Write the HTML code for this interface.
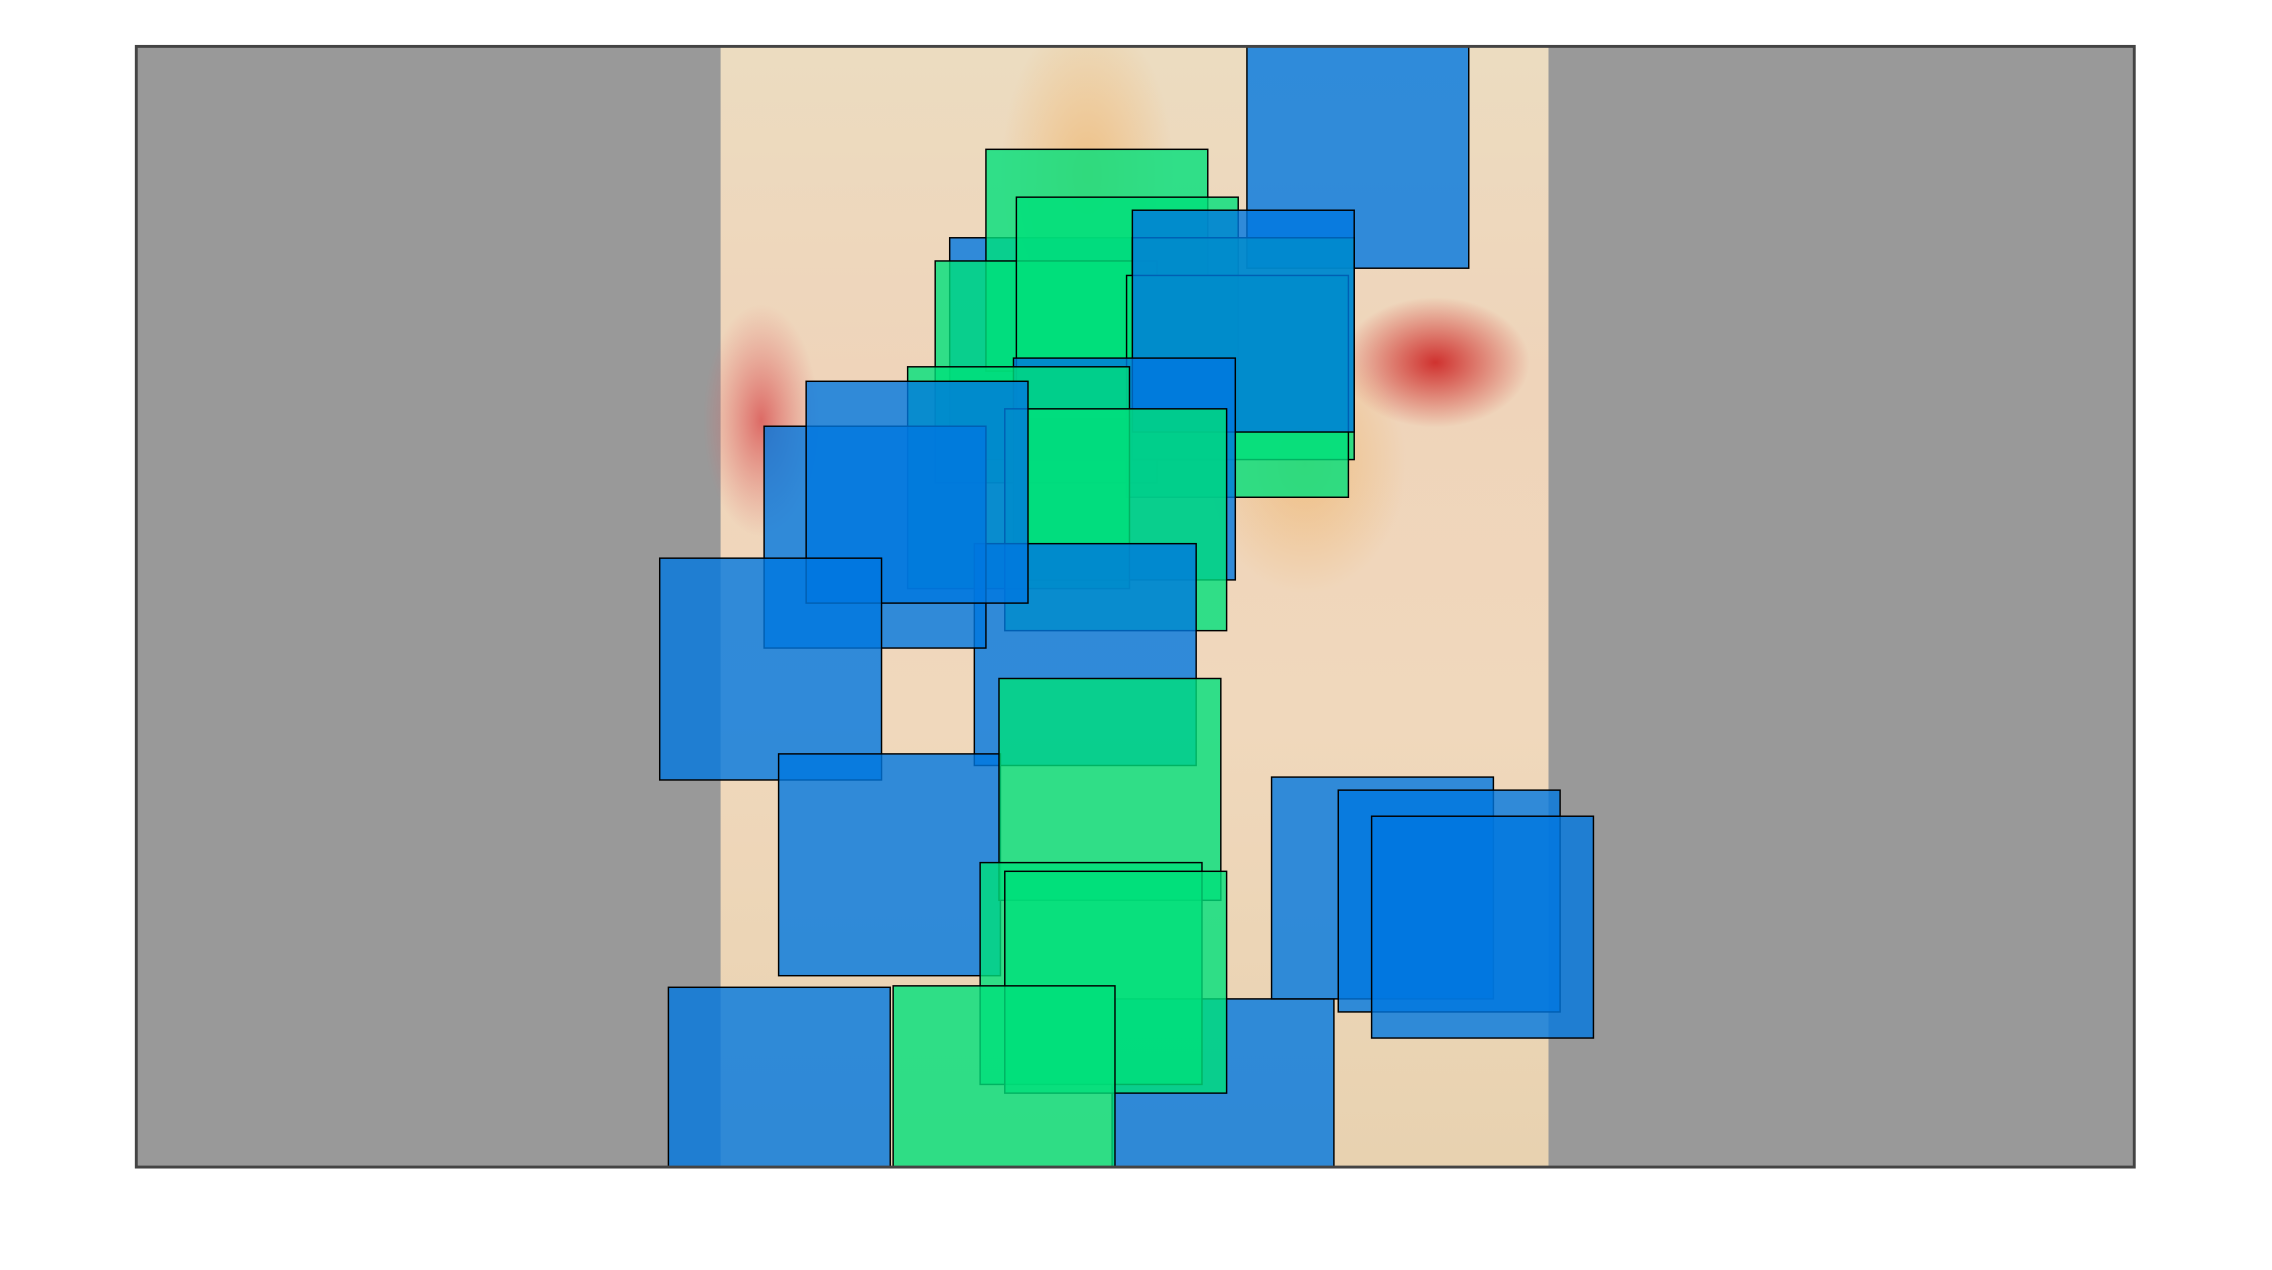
<!DOCTYPE html>
<html><head><meta charset="utf-8"><style>
html,body{margin:0;padding:0;background:#fff;}
svg{display:block;}
</style></head><body>
<svg id="chart" width="2272" height="1270" viewBox="0 0 1567 876" preserveAspectRatio="none" xmlns="http://www.w3.org/2000/svg">
<defs>
<linearGradient id="bgv" x1="0" y1="0" x2="0" y2="1">
<stop offset="0" stop-color="#ecdcc0"/><stop offset="0.3" stop-color="#efd4ba"/><stop offset="0.6" stop-color="#f0d8bc"/><stop offset="1" stop-color="#e8d2b0"/>
</linearGradient>
<radialGradient id="redL" cx="0.5" cy="0.5" r="0.5"><stop offset="0" stop-color="#d85050" stop-opacity="0.8"/><stop offset="1" stop-color="#e07070" stop-opacity="0"/></radialGradient>
<radialGradient id="redR" cx="0.5" cy="0.5" r="0.5"><stop offset="0" stop-color="#cc2020" stop-opacity="0.9"/><stop offset="1" stop-color="#cc2020" stop-opacity="0"/></radialGradient>
<radialGradient id="orng" cx="0.5" cy="0.5" r="0.5"><stop offset="0" stop-color="#f0b060" stop-opacity="0.6"/><stop offset="1" stop-color="#f0b060" stop-opacity="0"/></radialGradient>
<clipPath id="plotclip"><rect x="94" y="32" width="1378" height="773"/></clipPath>
</defs>
<rect x="94" y="32" width="1378" height="773" fill="#999999"/>
<g clip-path="url(#plotclip)">
<g>
<rect x="497" y="32" width="571" height="773" fill="url(#bgv)"/>
<ellipse cx="525" cy="290" rx="40" ry="80" fill="url(#redL)"/>
<ellipse cx="990" cy="250" rx="65" ry="45" fill="url(#redR)"/>
<ellipse cx="750" cy="120" rx="60" ry="110" fill="url(#orng)"/>
<ellipse cx="900" cy="320" rx="70" ry="90" fill="url(#orng)"/>
</g>
<g id="marks"></g>
</g>
<rect x="94" y="32" width="1378" height="773" fill="none" stroke="#444" stroke-width="2"/>
</svg>
<script>
// data: left x, top y (data units, y measured downward from top of plot), series kind, in draw order
const seriesKind = ["blue","blue","green","green","green","green","green","blue","blue","green","green","blue","blue","blue","blue","blue","green","blue","green","green","blue","blue","blue","blue","green"];
const xValues = [766,561,586,551,607,687,683,687,605,532,599,578,433,462,361,443,595,673,582,599,783,829,852,367,522];
const yValues = [0,132,71,148,104,132,158,113,215,221,250,343,262,231,353,488,436,657,563,569,504,513,531,649,648];
const sideValues = [153,153,153,153,153,153,153,153,153,153,153,153,153,153,153,153,153,153,153,153,153,153,153,153,153];

const X0=94, Y0=32, PW=1378, PH=773, XMAX=1378, YMAX=773;
const xs = v => X0 + v/XMAX*PW;
const ys = v => Y0 + v/YMAX*PH;
const g = document.getElementById('marks');
const NS='http://www.w3.org/2000/svg';
xValues.forEach((xv,i)=>{
  const r=document.createElementNS(NS,'rect');
  
  
  const x=xs(xv), y=ys(yValues[i]);
  r.setAttribute('x',x); r.setAttribute('y',y);
  r.setAttribute('width',xs(xv+sideValues[i])-x);
  r.setAttribute('height',ys(yValues[i]+sideValues[i])-y);
  r.setAttribute('fill', seriesKind[i]==='blue' ? '#0077e0' : '#00e07a');
  r.setAttribute('fill-opacity','0.8');
  r.setAttribute('stroke','#000'); r.setAttribute('stroke-width','1');
  g.appendChild(r);
});
</script>
</body></html>
